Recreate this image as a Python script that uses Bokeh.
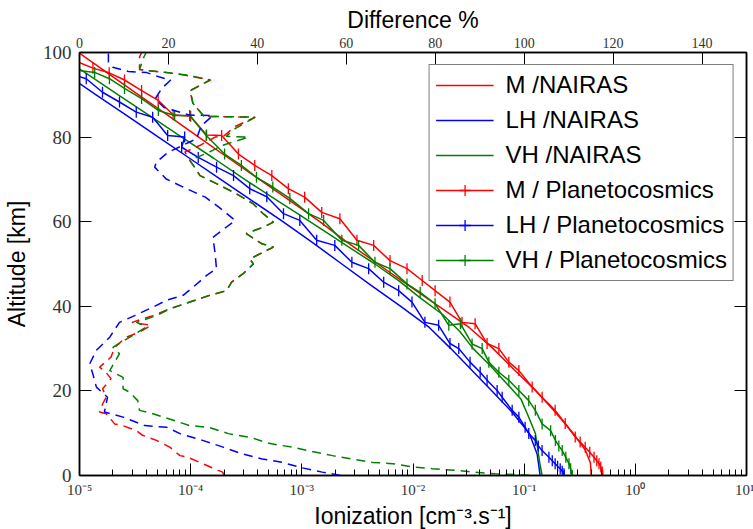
import numpy as np
from bokeh.plotting import figure
from bokeh.models import (Range1d, LinearAxis, LinearScale, FixedTicker, CustomJSTickFormatter,
                          Legend, LegendItem)
from bokeh.embed import file_html
from bokeh.resources import INLINE

# ---------------- data ----------------
# NAIRAS ionization profiles (altitude km, ionization cm^-3 s^-1)
M_NAIRAS_ALT = [0, 1.5, 3, 6, 10, 15, 20, 25, 30, 35, 40, 45, 50, 55, 60, 65, 70, 75, 80, 85, 90, 95, 100]
M_NAIRAS_ION = [0.40, 0.398, 0.394, 0.355, 0.276, 0.190, 0.128, 0.0813, 0.0526, 0.0320, 0.0171, 9.02e-3,
                4.84e-3, 2.60e-3, 1.45e-3, 7.80e-4, 4.15e-4, 2.20e-4, 1.18e-4, 6.34e-5, 3.40e-5, 1.82e-5, 9.8e-6]

LH_NAIRAS_ALT = [0, 2, 5, 10, 15, 20, 25, 30, 35, 40, 45, 50, 55, 60, 65, 70, 75, 80, 85, 90, 95, 100]
LH_NAIRAS_ION = [0.139, 0.136, 0.131, 0.111, 0.0776, 0.0513, 0.0335, 0.0219, 0.0140, 7.76e-3, 4.17e-3,
                 2.29e-3, 1.26e-3, 6.76e-4, 3.55e-4, 1.86e-4, 9.77e-5, 5.13e-5, 2.69e-5, 1.41e-5, 7.41e-6, 3.89e-6]

VH_NAIRAS_ALT = [0, 3, 6, 10, 14, 18, 22, 26, 30, 34, 38, 42, 46, 50, 54, 58, 62, 66, 70, 75, 80, 85, 90, 95, 100]
VH_NAIRAS_ION = [0.145, 0.138, 0.133, 0.126, 0.109, 0.0938, 0.0682, 0.0494, 0.0348, 0.0265, 0.0186, 0.0116,
                 7.48e-3, 4.55e-3, 2.65e-3, 1.55e-3, 9.02e-4, 5.26e-4, 3.06e-4, 1.61e-4, 8.30e-5, 4.30e-5,
                 2.23e-5, 1.16e-5, 5.96e-6]

# Planetocosmics ionization profiles
M_PLANETO_ALT = [97.9, 96.3, 95.2, 93.5, 91.0, 88.7, 85.3, 84.9, 80.5, 80.4, 76.0, 73.3, 70.9, 67.8, 65.8,
                 62.2, 60.7, 55.6, 54.4, 50.8, 48.9, 46.1, 43.7, 41.0, 36.2, 35.9, 31.2, 30.0, 26.8, 24.8,
                 20.9, 18.5, 15.4, 12.3, 9.1, 7.9, 6.7, 5.5, 4.3, 3.5, 2.8, 2.0, 0.8, 0.0]
M_PLANETO_ION = [9.40e-6, 1.32e-5, 1.85e-5, 2.54e-5, 3.62e-5, 5.10e-5, 6.95e-5, 1.00e-4, 1.39e-4, 1.90e-4,
                 2.69e-4, 3.77e-4, 5.37e-4, 7.56e-4, 1.06e-3, 1.51e-3, 2.20e-3, 3.13e-3, 4.43e-3, 6.21e-3,
                 8.83e-3, 0.0121, 0.0158, 0.0215, 0.0276, 0.0362, 0.0464, 0.0592, 0.0728, 0.0896, 0.118,
                 0.145, 0.190, 0.234, 0.288, 0.319, 0.354, 0.389, 0.425, 0.450, 0.471, 0.489, 0.504, 0.509]

LH_PLANETO_ALT = [94.5, 93.8, 90.6, 88.3, 85.9, 84.7, 80.4, 80.0, 77.6, 75.2, 72.9, 70.9, 67.8, 65.9, 61.9,
                  60.3, 55.6, 54.4, 50.4, 48.9, 45.7, 43.7, 41.0, 36.2, 35.5, 31.2, 30.0, 26.8, 24.4, 22.5,
                  20.1, 18.5, 15.4, 13.8, 11.4, 9.9, 8.3, 7.0, 5.9, 4.3, 3.5, 2.8, 2.2, 1.6, 1.0, 0.4, 0.0]
LH_PLANETO_ION = [9.40e-6, 1.15e-5, 1.61e-5, 2.29e-5, 3.24e-5, 4.55e-5, 6.21e-5, 8.83e-5, 8.30e-5, 1.17e-4,
                  1.71e-4, 2.43e-4, 3.40e-4, 4.84e-4, 6.84e-4, 9.59e-4, 1.36e-3, 1.98e-3, 2.82e-3, 3.99e-3,
                  5.45e-3, 7.43e-3, 9.79e-3, 0.0128, 0.0170, 0.0215, 0.0258, 0.0326, 0.0402, 0.0464, 0.0571,
                  0.0634, 0.0780, 0.0896, 0.102, 0.110, 0.126, 0.134, 0.145, 0.167, 0.179, 0.190, 0.200,
                  0.211, 0.220, 0.228, 0.229]

VH_PLANETO_ALT = [95.8, 95.3, 93.8, 91.5, 89.1, 86.3, 85.1, 85.1, 80.4, 76.0, 73.3, 70.5, 68.2, 65.5, 61.9,
                  60.3, 55.6, 54.4, 50.4, 48.9, 45.3, 43.3, 40.6, 35.5, 35.9, 31.1, 30.0, 26.8, 24.4, 22.5,
                  20.1, 17.7, 15.4, 12.2, 10.6, 8.3, 7.0, 5.9, 4.3, 2.8, 1.6, 0.0]
VH_PLANETO_ION = [9.40e-6, 1.37e-5, 1.86e-5, 2.54e-5, 3.62e-5, 5.12e-5, 7.18e-5, 9.79e-5, 1.38e-4, 2.02e-4,
                  2.86e-4, 3.91e-4, 5.48e-4, 7.80e-4, 1.15e-3, 1.57e-3, 2.29e-3, 3.24e-3, 4.55e-3, 6.21e-3,
                  8.83e-3, 0.0116, 0.0158, 0.0210, 0.0267, 0.0340, 0.0419, 0.0481, 0.0592, 0.0728, 0.0896,
                  0.110, 0.126, 0.145, 0.173, 0.191, 0.205, 0.220, 0.237, 0.253, 0.262, 0.271]

# Difference % (top axis)
LH_DIFF_ALT = [0.0, 0.8, 1.8, 3.1, 3.9, 5.1, 6.7, 8.3, 9.9, 11.4, 11.8, 13.8, 15.0, 18.5, 20.9, 24.0, 26.4,
               29.6, 30.3, 32.7, 35.1, 36.2, 37.8, 39.8, 41.4, 42.6, 44.5, 47.3, 48.9, 52.5, 56.3, 60.3, 63.4,
               65.8, 67.8, 70.1, 72.9, 74.1, 76.4, 79.6, 82.7, 85.1, 85.2, 87.0, 89.0, 91.5, 93.5, 94.2, 95.3,
               95.5, 96.5, 97.7, 100.0]
LH_DIFF_PCT = [58.7, 54.6, 50.1, 45.6, 41.1, 36.6, 32.3, 27.7, 22.6, 19.6, 14.7, 9.8, 5.6, 6.3, 3.8, 3.0, 2.3,
               3.8, 4.5, 6.8, 8.3, 9.0, 12.4, 16.5, 19.5, 23.3, 25.5, 28.6, 30.8, 30.5, 30.0, 35.0, 31.4,
               28.3, 24.1, 19.5, 16.9, 17.3, 19.9, 26.3, 27.4, 30.0, 24.8, 19.0, 17.0, 18.5, 20.5, 18.0, 15.0,
               11.0, 7.5, 6.5, 6.5]

M_DIFF_ALT = [0.0, 0.8, 1.2, 2.8, 4.3, 4.7, 6.7, 8.3, 9.5, 10.6, 11.8, 12.2, 14.6, 15.0, 16.9, 18.5, 20.5,
              22.9, 24.8, 25.6, 28.0, 30.3, 32.7, 33.9, 35.5, 36.2, 37.8, 39.4, 41.0, 42.6, 43.7, 45.7, 47.7,
              50.0, 51.2, 54.0, 54.8, 57.2, 58.7, 59.9, 61.9, 64.2, 66.6, 69.0, 70.9, 73.3, 74.5, 76.5, 78.0,
              80.0, 80.3, 82.5, 84.7, 84.9, 88.0, 91.0, 93.5, 94.7, 95.3, 95.7, 96.0, 99.0, 100.0]
M_DIFF_PCT = [32.5, 32.2, 31.2, 27.7, 24.4, 22.6, 20.3, 17.3, 14.2, 12.8, 9.7, 7.9, 6.0, 4.5, 5.2, 6.0, 5.2,
              7.1, 5.6, 4.5, 7.1, 7.9, 10.5, 13.5, 16.1, 11.8, 16.5, 20.3, 24.8, 29.3, 33.1, 34.2, 36.8,
              39.1, 38.3, 43.6, 41.0, 37.5, 41.3, 43.6, 41.3, 39.1, 35.3, 30.8, 27.1, 25.6, 24.8, 23.7, 27.0,
              30.5, 32.5, 35.0, 39.5, 28.0, 25.5, 24.8, 29.5, 23.5, 19.5, 15.4, 13.5, 13.5, 14.0]

VH_DIFF_ALT = [0.0, 0.4, 0.8, 1.2, 1.6, 2.0, 2.8, 3.1, 3.9, 4.7, 5.7, 6.7, 7.6, 8.9, 9.9, 11.4, 11.8, 14.6,
               15.4, 17.7, 19.7, 20.5, 23.2, 24.8, 28.8, 30.3, 32.7, 35.1, 36.2, 37.8, 39.4, 41.0, 42.6, 43.7,
               45.7, 47.7, 50.0, 51.2, 54.0, 54.8, 57.2, 58.7, 59.9, 61.9, 64.2, 66.6, 69.0, 70.9, 73.3, 74.5,
               76.5, 78.0, 80.0, 80.2, 82.0, 84.7, 84.9, 88.0, 91.0, 93.5, 94.7, 95.3, 95.7, 96.0, 99.0, 100.0]
VH_DIFF_PCT = [103.0, 93.5, 89.0, 84.6, 79.4, 74.9, 70.4, 65.9, 61.4, 56.9, 52.3, 47.8, 42.6, 38.8, 33.5, 29.0,
               24.8, 16.5, 13.5, 13.1, 11.3, 9.8, 9.8, 6.8, 9.0, 7.5, 11.3, 15.0, 12.8, 17.3, 20.3, 24.8, 29.3,
               33.1, 34.2, 36.8, 39.1, 38.3, 43.6, 41.0, 37.5, 41.3, 43.6, 41.3, 39.1, 35.3, 30.8, 27.1, 25.6,
               24.8, 29.3, 32.0, 38.0, 33.0, 35.0, 39.5, 28.0, 25.5, 25.0, 29.3, 24.0, 19.5, 15.4, 13.5, 14.5,
               15.0]

X_MAJOR = [1e-5, 1e-4, 1e-3, 1e-2, 1e-1, 1e0, 1e1]
Y_TICKS = [0, 20, 40, 60, 80, 100]
TOP_TICKS = [0, 20, 40, 60, 80, 100, 120, 140]

RED, BLUE, GREEN = "#ff0000", "#0000ff", "#008000"
SERIF = "Liberation Serif"
SANS = "Liberation Sans"

# ---------------- figure ----------------
p = figure(frame_width=667, frame_height=423, x_axis_type="log",
           x_range=Range1d(1e-5, 1e1), y_range=Range1d(0, 100),
           output_backend="svg", toolbar_location=None,
           min_border_left=78, min_border_right=8, min_border_top=52, min_border_bottom=54)
p.extra_x_ranges = {"diff": Range1d(0, 150)}
p.extra_x_scales = {"diff": LinearScale()}
p.grid.visible = False
p.outline_line_color = "black"
p.outline_line_width = 1.5
p.background_fill_color = "white"
p.border_fill_color = "white"

minor = [m * 10.0 ** e for e in range(-5, 1) for m in range(2, 10)]

def style_axis(ax, label_size):
    ax.axis_line_color = "black"
    ax.axis_line_width = 1.5
    ax.major_tick_in = 12
    ax.major_tick_out = 0
    ax.minor_tick_in = 6
    ax.minor_tick_out = 0
    ax.major_tick_line_color = "black"
    ax.minor_tick_line_color = "black"
    ax.major_tick_line_width = 1
    ax.minor_tick_line_width = 1
    ax.major_label_text_font = SERIF
    ax.major_label_text_font_size = label_size
    ax.major_label_text_color = "#333333"
    ax.axis_label_text_font = SANS
    ax.axis_label_text_font_size = "23px"
    ax.axis_label_text_font_style = "normal"
    ax.axis_label_text_color = "black"

xb = p.xaxis[0]
xb.ticker = FixedTicker(ticks=X_MAJOR, minor_ticks=minor)
xb.formatter = CustomJSTickFormatter(code="""
const s = {"-":"\u207b","0":"\u2070","1":"\u00b9","2":"\u00b2","3":"\u00b3","4":"\u2074",
           "5":"\u2075","6":"\u2076","7":"\u2077","8":"\u2078","9":"\u2079"};
const e = Math.round(Math.log10(tick));
return "10" + String(e).split("").map(c => s[c]).join("");
""")
style_axis(xb, "15px")
xb.axis_label = "Ionization [cm\u207b\u00b3.s\u207b\u00b9]"
xb.major_label_standoff = 6
xb.axis_label_standoff = 2

yl = p.yaxis[0]
yl.ticker = FixedTicker(ticks=Y_TICKS)
style_axis(yl, "19px")
yl.axis_label = "Altitude [km]"
yl.major_label_standoff = 8
yl.axis_label_standoff = 10

top = LinearAxis(x_range_name="diff", ticker=FixedTicker(ticks=TOP_TICKS), axis_label="Difference %")
style_axis(top, "14px")
top.major_label_standoff = 5
top.axis_label_standoff = 2
p.add_layout(top, "above")

right = LinearAxis(ticker=FixedTicker(ticks=Y_TICKS))
style_axis(right, "1px")
right.major_label_text_alpha = 0
right.major_label_standoff = 0
p.add_layout(right, "right")

# ---------------- series ----------------
r_m = p.line(M_NAIRAS_ION, M_NAIRAS_ALT, line_color=RED, line_width=1.5)
r_lh = p.line(LH_NAIRAS_ION, LH_NAIRAS_ALT, line_color=BLUE, line_width=1.5)
r_vh = p.line(VH_NAIRAS_ION, VH_NAIRAS_ALT, line_color=GREEN, line_width=1.5)

def marked(xs, ys, col):
    l = p.line(xs, ys, line_color=col, line_width=1.5)
    p.scatter(xs, ys, marker="dash", angle=np.pi / 2, size=11, line_color=col, line_width=1.3)
    # legend-only glyph (NaN position, never drawn in the plot): a cross whose
    # horizontal arm lies on the legend line, leaving a vertical tick
    leg = p.scatter([np.nan], [np.nan], marker="cross", size=11, line_color=col, line_width=1.3)
    return [l, leg]

r_mp = marked(M_PLANETO_ION, M_PLANETO_ALT, RED)
r_lhp = marked(LH_PLANETO_ION, LH_PLANETO_ALT, BLUE)
r_vhp = marked(VH_PLANETO_ION, VH_PLANETO_ALT, GREEN)

DASH = "9 6"
p.line(M_DIFF_PCT, M_DIFF_ALT, x_range_name="diff", line_color=RED, line_width=1.5, line_dash=DASH)
p.line(LH_DIFF_PCT, LH_DIFF_ALT, x_range_name="diff", line_color=BLUE, line_width=1.5, line_dash=DASH)
p.line(VH_DIFF_PCT, VH_DIFF_ALT, x_range_name="diff", line_color=GREEN, line_width=1.5, line_dash=DASH,
       line_dash_offset=7)

legend = Legend(items=[
    LegendItem(label="M /NAIRAS", renderers=[r_m]),
    LegendItem(label="LH /NAIRAS", renderers=[r_lh]),
    LegendItem(label="VH /NAIRAS", renderers=[r_vh]),
    LegendItem(label="M / Planetocosmics", renderers=r_mp),
    LegendItem(label="LH / Planetocosmics", renderers=r_lhp),
    LegendItem(label="VH / Planetocosmics", renderers=r_vhp),
], location="top_right")
legend.border_line_color = "black"
legend.border_line_width = 1.5
legend.background_fill_color = "white"
legend.background_fill_alpha = 1.0
legend.label_text_font = SANS
legend.label_text_font_size = "24px"
legend.label_text_color = "black"
legend.glyph_width = 58
legend.glyph_height = 28
legend.label_height = 28
legend.label_standoff = 12
legend.spacing = 7
legend.padding = 6
legend.margin = 12
p.add_layout(legend)

open("out.html", "w").write(file_html(p, INLINE))
